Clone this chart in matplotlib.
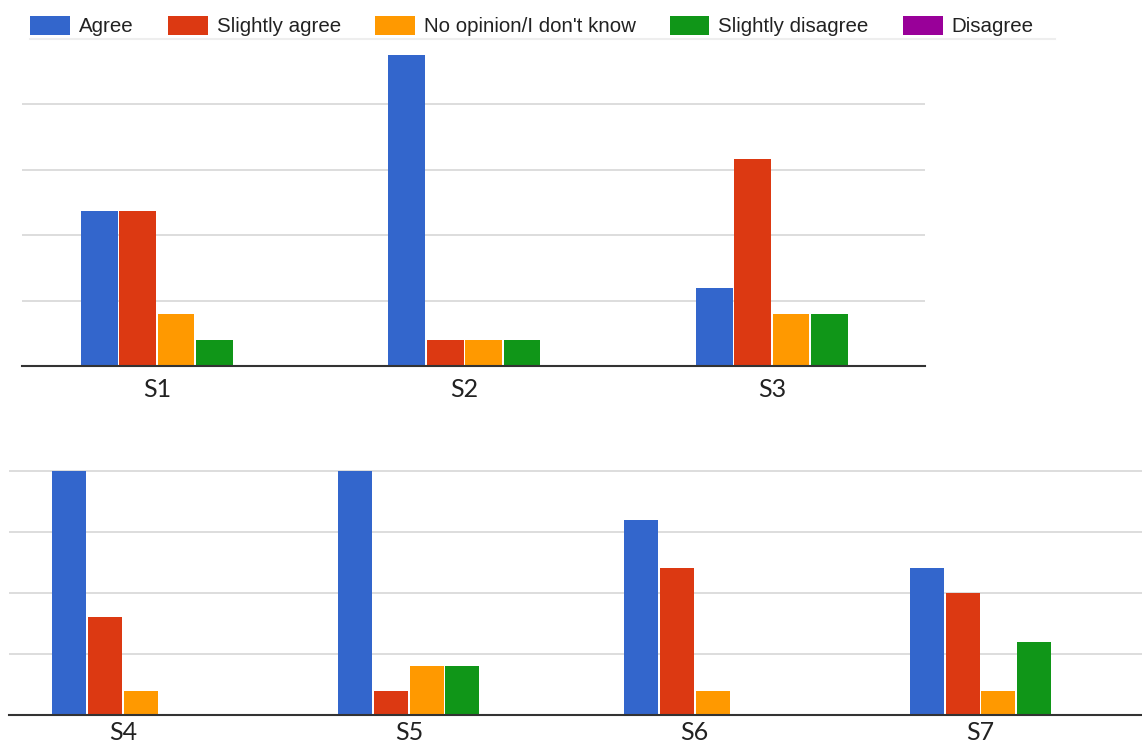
import matplotlib
matplotlib.use('Agg')
import matplotlib.pyplot as plt
from matplotlib.patches import Patch
from matplotlib.lines import Line2D

answers = ['Agree', 'Slightly agree', "No opinion/I don't know", 'Slightly disagree', 'Disagree']
cols = ['#3366cc', '#dc3912', '#ff9900', '#109618', '#990099']

# first block of statements
top_labels = ['S1', 'S2', 'S3']
top_agree = [6, 12, 3]
top_slightly_agree = [6, 1, 8]
top_no_opinion = [2, 1, 2]
top_slightly_disagree = [1, 1, 2]

# second block of statements
bot_labels = ['S4', 'S5', 'S6', 'S7']
bot_agree = [10, 10, 8, 6]
bot_slightly_agree = [4, 1, 6, 5]
bot_no_opinion = [1, 2, 1, 1]
bot_slightly_disagree = [0, 2, 0, 3]

W, H = 1142, 747
fig = plt.figure(figsize=(W / 100, H / 100), dpi=100)


def box(left, right, top, bottom):
    return [left / W, 1 - bottom / H, (right - left) / W, (bottom - top) / H]


def draw(ax, labels, series, xlim, ylim, step, pad):
    slot = 0.125
    for i, vals in enumerate(series):
        off = (i - (len(series) - 1) / 2) * slot
        ax.bar([x + off for x in range(len(labels))], vals, width=0.119,
               color=cols[i], edgecolor='none', zorder=3)
    ax.set_xlim(*xlim)
    ax.set_ylim(*ylim)
    ax.set_xticks(range(len(labels)))
    ax.set_xticklabels(labels, fontname='Lato', fontsize=18, color='#222222')
    ax.set_yticks([step * k for k in range(1, 5)])
    ax.set_yticklabels([])
    ax.tick_params(length=0, pad=pad)
    ax.grid(axis='y', color='#dadada', linewidth=1.3)
    ax.set_axisbelow(True)
    for s in ['top', 'right', 'left']:
        ax.spines[s].set_visible(False)
    ax.spines['bottom'].set_color('#333333')
    ax.spines['bottom'].set_linewidth(1.5)
    ax.spines['bottom'].set_zorder(4)


ax1 = fig.add_axes(box(22, 925, 38.5, 366))
draw(ax1, top_labels, [top_agree, top_slightly_agree, top_no_opinion, top_slightly_disagree],
     (-0.439, 2.498), (0, 12.64), 2.525, 8.5)

ax2 = fig.add_axes(box(9, 1142, 465.8, 715))
draw(ax2, bot_labels, [bot_agree, bot_slightly_agree, bot_no_opinion, bot_slightly_disagree],
     (-0.399, 3.565), (0, 10.2), 2.5, 4)

handles = [Patch(facecolor=c, edgecolor='none') for c in cols]
fig.legend(handles, answers, loc='upper left', bbox_to_anchor=(30 / W, 1 - 16 / H),
           ncol=5, frameon=False, borderpad=0, borderaxespad=0,
           handlelength=1.95, handleheight=1.02, handletextpad=0.44, columnspacing=1.66,
           prop={'family': 'Liberation Sans', 'size': 14.75}, labelcolor='#222222')
fig.add_artist(Line2D([30 / W, 1055 / W], [1 - 39 / H, 1 - 39 / H],
                      color='#eeeeee', linewidth=1.5, transform=fig.transFigure))

plt.savefig('out.png', dpi=100)
